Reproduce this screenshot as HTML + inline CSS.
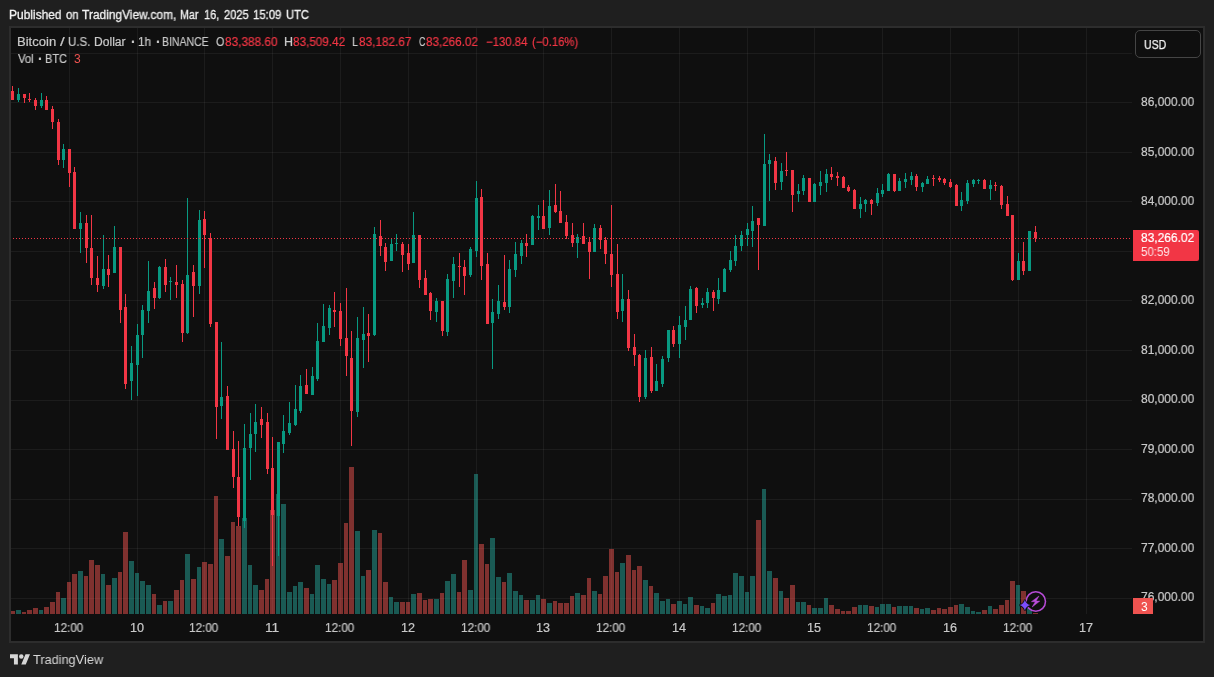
<!DOCTYPE html>
<html><head><meta charset="utf-8"><title>BTCUSD chart</title>
<style>
html,body{margin:0;padding:0;background:#1f1f1f;}
body{width:1214px;height:677px;position:relative;overflow:hidden;font-family:"Liberation Sans",sans-serif;font-size:12px;color:#c9c9c9;}
#frame{position:absolute;left:9px;top:26px;width:1192px;height:613px;border:2px solid #2d2d2d;background:#0f0f0f;}
.t{position:absolute;white-space:nowrap;line-height:14px;transform-origin:0 0;will-change:transform;z-index:1;}
#usd{position:absolute;left:1135px;top:30px;width:64px;height:26px;border:1px solid #454545;border-radius:5px;background:#0f0f0f;}
#plab{position:absolute;left:1133px;top:230px;width:66px;height:31px;background:#F23645;border-radius:0 2px 2px 0;z-index:2;}
#vlab{position:absolute;left:1133px;top:598px;width:20px;height:16px;background:#ef5350;z-index:2;}
#logo{position:absolute;left:10px;top:652px;}
</style></head><body>
<div id="frame"></div>
<svg width="1214" height="677" viewBox="0 0 1214 677" shape-rendering="crispEdges" style="position:absolute;left:0;top:0"><g fill="rgba(242,242,242,0.06)"><rect x="11" y="53" width="1121" height="1"/><rect x="11" y="102" width="1121" height="1"/><rect x="11" y="152" width="1121" height="1"/><rect x="11" y="201" width="1121" height="1"/><rect x="11" y="251" width="1121" height="1"/><rect x="11" y="300" width="1121" height="1"/><rect x="11" y="350" width="1121" height="1"/><rect x="11" y="400" width="1121" height="1"/><rect x="11" y="449" width="1121" height="1"/><rect x="11" y="499" width="1121" height="1"/><rect x="11" y="548" width="1121" height="1"/><rect x="11" y="598" width="1121" height="1"/><rect x="69" y="28" width="1" height="586"/><rect x="137" y="28" width="1" height="586"/><rect x="204" y="28" width="1" height="586"/><rect x="272" y="28" width="1" height="586"/><rect x="340" y="28" width="1" height="586"/><rect x="408" y="28" width="1" height="586"/><rect x="476" y="28" width="1" height="586"/><rect x="543" y="28" width="1" height="586"/><rect x="611" y="28" width="1" height="586"/><rect x="679" y="28" width="1" height="586"/><rect x="747" y="28" width="1" height="586"/><rect x="814" y="28" width="1" height="586"/><rect x="882" y="28" width="1" height="586"/><rect x="950" y="28" width="1" height="586"/><rect x="1018" y="28" width="1" height="586"/><rect x="1086" y="28" width="1" height="586"/></g><g fill="rgba(38,166,154,0.5)"><rect x="16" y="610" width="5" height="4"/><rect x="39" y="610" width="4" height="4"/><rect x="61" y="598" width="5" height="16"/><rect x="78" y="571" width="5" height="43"/><rect x="101" y="574" width="4" height="40"/><rect x="112" y="578" width="5" height="36"/><rect x="129" y="561" width="5" height="53"/><rect x="135" y="573" width="4" height="41"/><rect x="140" y="581" width="5" height="33"/><rect x="146" y="585" width="5" height="29"/><rect x="157" y="605" width="5" height="9"/><rect x="168" y="601" width="5" height="13"/><rect x="185" y="554" width="5" height="60"/><rect x="197" y="567" width="4" height="47"/><rect x="219" y="539" width="5" height="75"/><rect x="242" y="518" width="5" height="96"/><rect x="248" y="565" width="4" height="49"/><rect x="253" y="585" width="5" height="29"/><rect x="276" y="494" width="4" height="120"/><rect x="281" y="504" width="5" height="110"/><rect x="287" y="592" width="5" height="22"/><rect x="293" y="586" width="4" height="28"/><rect x="298" y="582" width="5" height="32"/><rect x="310" y="594" width="4" height="20"/><rect x="315" y="565" width="5" height="49"/><rect x="321" y="579" width="5" height="35"/><rect x="327" y="584" width="4" height="30"/><rect x="355" y="531" width="5" height="83"/><rect x="361" y="576" width="4" height="38"/><rect x="372" y="530" width="5" height="84"/><rect x="389" y="597" width="4" height="17"/><rect x="394" y="602" width="5" height="12"/><rect x="411" y="594" width="5" height="20"/><rect x="434" y="599" width="5" height="15"/><rect x="445" y="581" width="5" height="33"/><rect x="451" y="574" width="5" height="40"/><rect x="468" y="590" width="5" height="24"/><rect x="474" y="474" width="4" height="140"/><rect x="490" y="538" width="5" height="76"/><rect x="496" y="577" width="5" height="37"/><rect x="507" y="573" width="5" height="41"/><rect x="513" y="591" width="5" height="23"/><rect x="519" y="595" width="4" height="19"/><rect x="530" y="600" width="5" height="14"/><rect x="536" y="595" width="4" height="19"/><rect x="547" y="603" width="5" height="11"/><rect x="575" y="593" width="5" height="21"/><rect x="592" y="591" width="5" height="23"/><rect x="620" y="563" width="5" height="51"/><rect x="643" y="580" width="5" height="34"/><rect x="654" y="593" width="5" height="21"/><rect x="660" y="601" width="5" height="13"/><rect x="666" y="599" width="4" height="15"/><rect x="677" y="601" width="5" height="13"/><rect x="683" y="604" width="4" height="10"/><rect x="688" y="597" width="5" height="17"/><rect x="700" y="606" width="4" height="8"/><rect x="705" y="608" width="5" height="6"/><rect x="716" y="594" width="5" height="20"/><rect x="722" y="596" width="5" height="18"/><rect x="728" y="595" width="4" height="19"/><rect x="733" y="573" width="5" height="41"/><rect x="739" y="576" width="5" height="38"/><rect x="745" y="592" width="4" height="22"/><rect x="750" y="576" width="5" height="38"/><rect x="762" y="489" width="4" height="125"/><rect x="767" y="571" width="5" height="43"/><rect x="779" y="591" width="4" height="23"/><rect x="796" y="602" width="4" height="12"/><rect x="801" y="602" width="5" height="12"/><rect x="812" y="608" width="5" height="6"/><rect x="818" y="608" width="5" height="6"/><rect x="824" y="598" width="4" height="16"/><rect x="858" y="605" width="4" height="9"/><rect x="863" y="605" width="5" height="9"/><rect x="875" y="607" width="4" height="7"/><rect x="880" y="604" width="5" height="10"/><rect x="886" y="604" width="5" height="10"/><rect x="897" y="606" width="5" height="8"/><rect x="903" y="606" width="5" height="8"/><rect x="909" y="606" width="4" height="8"/><rect x="920" y="609" width="4" height="5"/><rect x="925" y="608" width="5" height="6"/><rect x="959" y="604" width="5" height="10"/><rect x="965" y="607" width="5" height="7"/><rect x="971" y="611" width="4" height="3"/><rect x="976" y="612" width="5" height="2"/><rect x="988" y="606" width="4" height="8"/><rect x="1016" y="585" width="4" height="29"/><rect x="1027" y="607" width="5" height="7"/></g><g fill="rgba(239,83,80,0.5)"><rect x="11" y="611" width="4" height="3"/><rect x="22" y="612" width="4" height="2"/><rect x="27" y="610" width="5" height="4"/><rect x="33" y="608" width="5" height="6"/><rect x="44" y="607" width="5" height="7"/><rect x="50" y="602" width="5" height="12"/><rect x="56" y="592" width="4" height="22"/><rect x="67" y="582" width="4" height="32"/><rect x="72" y="574" width="5" height="40"/><rect x="84" y="576" width="4" height="38"/><rect x="89" y="560" width="5" height="54"/><rect x="95" y="565" width="5" height="49"/><rect x="106" y="585" width="5" height="29"/><rect x="118" y="572" width="4" height="42"/><rect x="123" y="532" width="5" height="82"/><rect x="152" y="594" width="4" height="20"/><rect x="163" y="601" width="4" height="13"/><rect x="174" y="590" width="5" height="24"/><rect x="180" y="580" width="4" height="34"/><rect x="191" y="579" width="5" height="35"/><rect x="202" y="562" width="5" height="52"/><rect x="208" y="564" width="5" height="50"/><rect x="214" y="496" width="4" height="118"/><rect x="225" y="556" width="5" height="58"/><rect x="231" y="522" width="4" height="92"/><rect x="236" y="526" width="5" height="88"/><rect x="259" y="590" width="5" height="24"/><rect x="265" y="579" width="4" height="35"/><rect x="270" y="510" width="5" height="104"/><rect x="304" y="588" width="5" height="26"/><rect x="332" y="580" width="5" height="34"/><rect x="338" y="563" width="5" height="51"/><rect x="344" y="523" width="4" height="91"/><rect x="349" y="467" width="5" height="147"/><rect x="366" y="570" width="5" height="44"/><rect x="378" y="533" width="4" height="81"/><rect x="383" y="582" width="5" height="32"/><rect x="400" y="602" width="5" height="12"/><rect x="406" y="602" width="4" height="12"/><rect x="417" y="593" width="5" height="21"/><rect x="423" y="600" width="4" height="14"/><rect x="428" y="599" width="5" height="15"/><rect x="440" y="593" width="4" height="21"/><rect x="457" y="592" width="4" height="22"/><rect x="462" y="560" width="5" height="54"/><rect x="479" y="544" width="5" height="70"/><rect x="485" y="564" width="4" height="50"/><rect x="502" y="582" width="4" height="32"/><rect x="524" y="600" width="5" height="14"/><rect x="541" y="599" width="5" height="15"/><rect x="553" y="601" width="4" height="13"/><rect x="558" y="603" width="5" height="11"/><rect x="564" y="603" width="5" height="11"/><rect x="570" y="596" width="4" height="18"/><rect x="581" y="595" width="5" height="19"/><rect x="587" y="578" width="4" height="36"/><rect x="598" y="594" width="4" height="20"/><rect x="603" y="576" width="5" height="38"/><rect x="609" y="549" width="5" height="65"/><rect x="615" y="572" width="4" height="42"/><rect x="626" y="555" width="5" height="59"/><rect x="632" y="570" width="4" height="44"/><rect x="637" y="566" width="5" height="48"/><rect x="649" y="586" width="4" height="28"/><rect x="671" y="604" width="5" height="10"/><rect x="694" y="605" width="5" height="9"/><rect x="711" y="603" width="4" height="11"/><rect x="756" y="520" width="5" height="94"/><rect x="773" y="578" width="5" height="36"/><rect x="784" y="598" width="5" height="16"/><rect x="790" y="585" width="5" height="29"/><rect x="807" y="605" width="4" height="9"/><rect x="829" y="605" width="5" height="9"/><rect x="835" y="609" width="5" height="5"/><rect x="841" y="611" width="4" height="3"/><rect x="846" y="611" width="5" height="3"/><rect x="852" y="607" width="5" height="7"/><rect x="869" y="606" width="5" height="8"/><rect x="892" y="607" width="4" height="7"/><rect x="914" y="608" width="5" height="6"/><rect x="931" y="610" width="5" height="4"/><rect x="937" y="608" width="4" height="6"/><rect x="942" y="609" width="5" height="5"/><rect x="948" y="607" width="5" height="7"/><rect x="954" y="605" width="4" height="9"/><rect x="982" y="610" width="5" height="4"/><rect x="993" y="609" width="5" height="5"/><rect x="999" y="605" width="5" height="9"/><rect x="1005" y="600" width="4" height="14"/><rect x="1010" y="581" width="5" height="33"/><rect x="1021" y="591" width="5" height="23"/><rect x="1033" y="613" width="5" height="1"/></g><g fill="#089981"><rect x="18" y="88" width="1" height="14"/><rect x="17" y="94" width="3" height="6"/><rect x="41" y="93" width="1" height="15"/><rect x="40" y="100" width="3" height="6"/><rect x="63" y="144" width="1" height="24"/><rect x="62" y="149" width="3" height="11"/><rect x="80" y="212" width="1" height="41"/><rect x="79" y="223" width="3" height="6"/><rect x="103" y="235" width="1" height="54"/><rect x="102" y="269" width="3" height="17"/><rect x="114" y="226" width="1" height="47"/><rect x="113" y="247" width="3" height="26"/><rect x="131" y="346" width="1" height="54"/><rect x="130" y="363" width="3" height="18"/><rect x="137" y="324" width="1" height="72"/><rect x="136" y="335" width="3" height="30"/><rect x="142" y="305" width="1" height="53"/><rect x="141" y="310" width="3" height="25"/><rect x="148" y="261" width="1" height="62"/><rect x="147" y="291" width="3" height="20"/><rect x="159" y="266" width="1" height="33"/><rect x="158" y="267" width="3" height="31"/><rect x="170" y="277" width="1" height="23"/><rect x="169" y="281" width="3" height="1"/><rect x="187" y="198" width="1" height="136"/><rect x="186" y="275" width="3" height="58"/><rect x="199" y="210" width="1" height="84"/><rect x="198" y="220" width="3" height="66"/><rect x="221" y="342" width="1" height="77"/><rect x="220" y="397" width="3" height="9"/><rect x="244" y="424" width="1" height="104"/><rect x="243" y="448" width="3" height="73"/><rect x="250" y="413" width="1" height="67"/><rect x="249" y="434" width="3" height="14"/><rect x="255" y="404" width="1" height="48"/><rect x="254" y="422" width="3" height="12"/><rect x="278" y="442" width="1" height="114"/><rect x="277" y="442" width="3" height="74"/><rect x="283" y="415" width="1" height="38"/><rect x="282" y="431" width="3" height="13"/><rect x="289" y="402" width="1" height="33"/><rect x="288" y="423" width="3" height="10"/><rect x="295" y="385" width="1" height="41"/><rect x="294" y="409" width="3" height="16"/><rect x="300" y="375" width="1" height="38"/><rect x="299" y="386" width="3" height="25"/><rect x="312" y="367" width="1" height="28"/><rect x="311" y="376" width="3" height="19"/><rect x="317" y="323" width="1" height="58"/><rect x="316" y="341" width="3" height="38"/><rect x="323" y="304" width="1" height="38"/><rect x="322" y="326" width="3" height="16"/><rect x="329" y="305" width="1" height="30"/><rect x="328" y="308" width="3" height="20"/><rect x="357" y="317" width="1" height="100"/><rect x="356" y="338" width="3" height="74"/><rect x="363" y="307" width="1" height="61"/><rect x="362" y="334" width="3" height="6"/><rect x="374" y="227" width="1" height="109"/><rect x="373" y="234" width="3" height="101"/><rect x="391" y="238" width="1" height="23"/><rect x="390" y="244" width="3" height="17"/><rect x="396" y="234" width="1" height="17"/><rect x="395" y="243" width="3" height="1"/><rect x="413" y="212" width="1" height="51"/><rect x="412" y="235" width="3" height="28"/><rect x="436" y="298" width="1" height="24"/><rect x="435" y="301" width="3" height="11"/><rect x="447" y="274" width="1" height="62"/><rect x="446" y="279" width="3" height="53"/><rect x="453" y="257" width="1" height="41"/><rect x="452" y="264" width="3" height="17"/><rect x="470" y="247" width="1" height="30"/><rect x="469" y="249" width="3" height="26"/><rect x="476" y="181" width="1" height="76"/><rect x="475" y="198" width="3" height="53"/><rect x="492" y="299" width="1" height="70"/><rect x="491" y="312" width="3" height="11"/><rect x="498" y="285" width="1" height="34"/><rect x="497" y="301" width="3" height="13"/><rect x="509" y="260" width="1" height="53"/><rect x="508" y="269" width="3" height="38"/><rect x="515" y="242" width="1" height="35"/><rect x="514" y="254" width="3" height="16"/><rect x="521" y="240" width="1" height="24"/><rect x="520" y="243" width="3" height="13"/><rect x="532" y="215" width="1" height="30"/><rect x="531" y="216" width="3" height="29"/><rect x="538" y="205" width="1" height="25"/><rect x="537" y="216" width="3" height="2"/><rect x="549" y="190" width="1" height="45"/><rect x="548" y="206" width="3" height="22"/><rect x="577" y="234" width="1" height="24"/><rect x="576" y="237" width="3" height="6"/><rect x="594" y="224" width="1" height="28"/><rect x="593" y="228" width="3" height="24"/><rect x="622" y="274" width="1" height="48"/><rect x="621" y="299" width="3" height="12"/><rect x="645" y="350" width="1" height="49"/><rect x="644" y="358" width="3" height="39"/><rect x="656" y="364" width="1" height="27"/><rect x="655" y="381" width="3" height="10"/><rect x="662" y="356" width="1" height="31"/><rect x="661" y="359" width="3" height="25"/><rect x="668" y="330" width="1" height="32"/><rect x="667" y="330" width="3" height="28"/><rect x="679" y="316" width="1" height="42"/><rect x="678" y="325" width="3" height="19"/><rect x="685" y="306" width="1" height="34"/><rect x="684" y="320" width="3" height="7"/><rect x="690" y="286" width="1" height="34"/><rect x="689" y="289" width="3" height="31"/><rect x="702" y="298" width="1" height="10"/><rect x="701" y="303" width="3" height="2"/><rect x="707" y="288" width="1" height="20"/><rect x="706" y="292" width="3" height="11"/><rect x="718" y="278" width="1" height="26"/><rect x="717" y="290" width="3" height="9"/><rect x="724" y="268" width="1" height="24"/><rect x="723" y="269" width="3" height="23"/><rect x="730" y="251" width="1" height="21"/><rect x="729" y="260" width="3" height="10"/><rect x="735" y="235" width="1" height="31"/><rect x="734" y="246" width="3" height="15"/><rect x="741" y="231" width="1" height="20"/><rect x="740" y="235" width="3" height="11"/><rect x="747" y="223" width="1" height="23"/><rect x="746" y="229" width="3" height="6"/><rect x="752" y="206" width="1" height="41"/><rect x="751" y="221" width="3" height="10"/><rect x="764" y="134" width="1" height="92"/><rect x="763" y="164" width="3" height="62"/><rect x="769" y="154" width="1" height="47"/><rect x="768" y="160" width="3" height="4"/><rect x="781" y="163" width="1" height="27"/><rect x="780" y="171" width="3" height="11"/><rect x="798" y="184" width="1" height="18"/><rect x="797" y="191" width="3" height="3"/><rect x="803" y="175" width="1" height="20"/><rect x="802" y="178" width="3" height="13"/><rect x="814" y="183" width="1" height="19"/><rect x="813" y="184" width="3" height="18"/><rect x="820" y="171" width="1" height="24"/><rect x="819" y="182" width="3" height="4"/><rect x="826" y="169" width="1" height="23"/><rect x="825" y="174" width="3" height="9"/><rect x="860" y="197" width="1" height="21"/><rect x="859" y="204" width="3" height="5"/><rect x="865" y="199" width="1" height="13"/><rect x="864" y="200" width="3" height="4"/><rect x="877" y="188" width="1" height="18"/><rect x="876" y="193" width="3" height="10"/><rect x="882" y="184" width="1" height="13"/><rect x="881" y="190" width="3" height="4"/><rect x="888" y="173" width="1" height="18"/><rect x="887" y="174" width="3" height="17"/><rect x="899" y="178" width="1" height="13"/><rect x="898" y="181" width="3" height="10"/><rect x="905" y="173" width="1" height="15"/><rect x="904" y="179" width="3" height="3"/><rect x="911" y="172" width="1" height="13"/><rect x="910" y="176" width="3" height="4"/><rect x="922" y="182" width="1" height="10"/><rect x="921" y="183" width="3" height="4"/><rect x="927" y="176" width="1" height="8"/><rect x="926" y="179" width="3" height="5"/><rect x="961" y="192" width="1" height="19"/><rect x="960" y="200" width="3" height="6"/><rect x="967" y="180" width="1" height="24"/><rect x="966" y="183" width="3" height="18"/><rect x="973" y="179" width="1" height="8"/><rect x="972" y="180" width="3" height="4"/><rect x="978" y="179" width="1" height="5"/><rect x="977" y="180" width="3" height="1"/><rect x="990" y="180" width="1" height="20"/><rect x="989" y="185" width="3" height="4"/><rect x="1018" y="253" width="1" height="27"/><rect x="1017" y="261" width="3" height="19"/><rect x="1029" y="231" width="1" height="40"/><rect x="1028" y="231" width="3" height="40"/></g><g fill="#F23645"><rect x="12" y="86" width="1" height="14"/><rect x="11" y="91" width="3" height="9"/><rect x="24" y="94" width="1" height="9"/><rect x="23" y="94" width="3" height="4"/><rect x="29" y="93" width="1" height="9"/><rect x="28" y="99" width="3" height="1"/><rect x="35" y="98" width="1" height="12"/><rect x="34" y="100" width="3" height="6"/><rect x="46" y="96" width="1" height="14"/><rect x="45" y="100" width="3" height="10"/><rect x="52" y="106" width="1" height="23"/><rect x="51" y="109" width="3" height="13"/><rect x="58" y="119" width="1" height="46"/><rect x="57" y="122" width="3" height="38"/><rect x="69" y="149" width="1" height="38"/><rect x="68" y="149" width="3" height="24"/><rect x="74" y="167" width="1" height="62"/><rect x="73" y="172" width="3" height="57"/><rect x="86" y="215" width="1" height="48"/><rect x="85" y="223" width="3" height="25"/><rect x="91" y="215" width="1" height="70"/><rect x="90" y="248" width="3" height="30"/><rect x="97" y="256" width="1" height="36"/><rect x="96" y="278" width="3" height="7"/><rect x="108" y="255" width="1" height="32"/><rect x="107" y="269" width="3" height="6"/><rect x="120" y="247" width="1" height="76"/><rect x="119" y="247" width="3" height="63"/><rect x="125" y="294" width="1" height="95"/><rect x="124" y="307" width="3" height="77"/><rect x="154" y="282" width="1" height="27"/><rect x="153" y="288" width="3" height="10"/><rect x="165" y="259" width="1" height="33"/><rect x="164" y="267" width="3" height="18"/><rect x="176" y="265" width="1" height="33"/><rect x="175" y="282" width="3" height="3"/><rect x="182" y="280" width="1" height="62"/><rect x="181" y="284" width="3" height="49"/><rect x="193" y="265" width="1" height="52"/><rect x="192" y="272" width="3" height="14"/><rect x="204" y="211" width="1" height="57"/><rect x="203" y="219" width="3" height="16"/><rect x="210" y="233" width="1" height="94"/><rect x="209" y="238" width="3" height="86"/><rect x="216" y="322" width="1" height="117"/><rect x="215" y="322" width="3" height="85"/><rect x="227" y="386" width="1" height="64"/><rect x="226" y="396" width="3" height="54"/><rect x="233" y="431" width="1" height="57"/><rect x="232" y="449" width="3" height="28"/><rect x="238" y="441" width="1" height="85"/><rect x="237" y="477" width="3" height="40"/><rect x="261" y="407" width="1" height="31"/><rect x="260" y="419" width="3" height="6"/><rect x="267" y="413" width="1" height="61"/><rect x="266" y="422" width="3" height="47"/><rect x="272" y="437" width="1" height="129"/><rect x="271" y="468" width="3" height="47"/><rect x="306" y="369" width="1" height="25"/><rect x="305" y="385" width="3" height="9"/><rect x="334" y="292" width="1" height="35"/><rect x="333" y="310" width="3" height="2"/><rect x="340" y="303" width="1" height="43"/><rect x="339" y="311" width="3" height="28"/><rect x="346" y="288" width="1" height="88"/><rect x="345" y="338" width="3" height="18"/><rect x="351" y="331" width="1" height="115"/><rect x="350" y="358" width="3" height="53"/><rect x="368" y="314" width="1" height="48"/><rect x="367" y="333" width="3" height="3"/><rect x="380" y="220" width="1" height="36"/><rect x="379" y="236" width="3" height="10"/><rect x="385" y="243" width="1" height="28"/><rect x="384" y="247" width="3" height="15"/><rect x="402" y="242" width="1" height="30"/><rect x="401" y="244" width="3" height="11"/><rect x="408" y="244" width="1" height="26"/><rect x="407" y="253" width="3" height="11"/><rect x="419" y="235" width="1" height="53"/><rect x="418" y="235" width="3" height="45"/><rect x="425" y="270" width="1" height="25"/><rect x="424" y="278" width="3" height="17"/><rect x="430" y="292" width="1" height="28"/><rect x="429" y="293" width="3" height="18"/><rect x="442" y="301" width="1" height="35"/><rect x="441" y="301" width="3" height="30"/><rect x="459" y="253" width="1" height="34"/><rect x="458" y="266" width="3" height="1"/><rect x="464" y="260" width="1" height="35"/><rect x="463" y="267" width="3" height="9"/><rect x="481" y="189" width="1" height="91"/><rect x="480" y="197" width="3" height="69"/><rect x="487" y="253" width="1" height="71"/><rect x="486" y="264" width="3" height="60"/><rect x="504" y="255" width="1" height="55"/><rect x="503" y="302" width="3" height="5"/><rect x="526" y="234" width="1" height="23"/><rect x="525" y="243" width="3" height="3"/><rect x="543" y="200" width="1" height="29"/><rect x="542" y="216" width="3" height="13"/><rect x="555" y="184" width="1" height="29"/><rect x="554" y="205" width="3" height="7"/><rect x="560" y="191" width="1" height="32"/><rect x="559" y="211" width="3" height="12"/><rect x="566" y="215" width="1" height="24"/><rect x="565" y="222" width="3" height="14"/><rect x="572" y="223" width="1" height="24"/><rect x="571" y="235" width="3" height="8"/><rect x="583" y="223" width="1" height="21"/><rect x="582" y="236" width="3" height="8"/><rect x="589" y="237" width="1" height="42"/><rect x="588" y="242" width="3" height="10"/><rect x="600" y="225" width="1" height="24"/><rect x="599" y="228" width="3" height="12"/><rect x="605" y="237" width="1" height="27"/><rect x="604" y="240" width="3" height="14"/><rect x="611" y="205" width="1" height="82"/><rect x="610" y="254" width="3" height="21"/><rect x="617" y="244" width="1" height="75"/><rect x="616" y="274" width="3" height="38"/><rect x="628" y="290" width="1" height="61"/><rect x="627" y="299" width="3" height="49"/><rect x="634" y="334" width="1" height="32"/><rect x="633" y="347" width="3" height="8"/><rect x="639" y="354" width="1" height="48"/><rect x="638" y="355" width="3" height="42"/><rect x="651" y="347" width="1" height="46"/><rect x="650" y="357" width="3" height="34"/><rect x="673" y="326" width="1" height="21"/><rect x="672" y="330" width="3" height="14"/><rect x="696" y="287" width="1" height="26"/><rect x="695" y="288" width="3" height="18"/><rect x="713" y="290" width="1" height="21"/><rect x="712" y="292" width="3" height="6"/><rect x="758" y="218" width="1" height="52"/><rect x="757" y="218" width="3" height="7"/><rect x="775" y="157" width="1" height="33"/><rect x="774" y="161" width="3" height="22"/><rect x="786" y="152" width="1" height="24"/><rect x="785" y="170" width="3" height="1"/><rect x="792" y="170" width="1" height="42"/><rect x="791" y="170" width="3" height="25"/><rect x="809" y="178" width="1" height="24"/><rect x="808" y="178" width="3" height="24"/><rect x="831" y="167" width="1" height="13"/><rect x="830" y="174" width="3" height="3"/><rect x="837" y="172" width="1" height="14"/><rect x="836" y="176" width="3" height="2"/><rect x="843" y="176" width="1" height="12"/><rect x="842" y="177" width="3" height="11"/><rect x="848" y="185" width="1" height="7"/><rect x="847" y="187" width="3" height="4"/><rect x="854" y="189" width="1" height="20"/><rect x="853" y="190" width="3" height="19"/><rect x="871" y="199" width="1" height="16"/><rect x="870" y="200" width="3" height="4"/><rect x="894" y="174" width="1" height="18"/><rect x="893" y="174" width="3" height="17"/><rect x="916" y="174" width="1" height="17"/><rect x="915" y="176" width="3" height="11"/><rect x="933" y="175" width="1" height="11"/><rect x="932" y="178" width="3" height="1"/><rect x="939" y="176" width="1" height="6"/><rect x="938" y="178" width="3" height="2"/><rect x="944" y="178" width="1" height="7"/><rect x="943" y="179" width="3" height="4"/><rect x="950" y="179" width="1" height="9"/><rect x="949" y="182" width="3" height="5"/><rect x="956" y="184" width="1" height="22"/><rect x="955" y="185" width="3" height="21"/><rect x="984" y="179" width="1" height="10"/><rect x="983" y="180" width="3" height="9"/><rect x="995" y="182" width="1" height="9"/><rect x="994" y="185" width="3" height="1"/><rect x="1001" y="185" width="1" height="24"/><rect x="1000" y="186" width="3" height="19"/><rect x="1007" y="196" width="1" height="20"/><rect x="1006" y="204" width="3" height="12"/><rect x="1012" y="215" width="1" height="66"/><rect x="1011" y="215" width="3" height="65"/><rect x="1023" y="242" width="1" height="33"/><rect x="1022" y="261" width="3" height="10"/><rect x="1035" y="226" width="1" height="16"/><rect x="1034" y="232" width="3" height="6"/></g><line x1="13" x2="1132" y1="238.5" y2="238.5" stroke="#F23645" stroke-width="1" stroke-dasharray="1 2"/></svg>
<div id="usd"></div>
<div id="plab"></div>
<div id="vlab"></div>
<div class="t" style="left:9.10px;top:7.90px;font-size:12px;transform:scaleX(0.9961);color:#f2f2f2;-webkit-text-stroke:0.3px #f2f2f2;">Published</div><div class="t" style="left:65.50px;top:7.90px;font-size:12px;transform:scaleX(0.9385);color:#f2f2f2;-webkit-text-stroke:0.3px #f2f2f2;">on</div><div class="t" style="left:82.40px;top:7.90px;font-size:12px;transform:scaleX(0.9947);color:#f2f2f2;-webkit-text-stroke:0.3px #f2f2f2;">TradingView.com,</div><div class="t" style="left:179.61px;top:7.90px;font-size:12px;transform:scaleX(0.8900);color:#f2f2f2;-webkit-text-stroke:0.3px #f2f2f2;">Mar</div><div class="t" style="left:203.99px;top:7.90px;font-size:12px;transform:scaleX(0.9133);color:#f2f2f2;-webkit-text-stroke:0.3px #f2f2f2;">16,</div><div class="t" style="left:223.90px;top:7.90px;font-size:12px;transform:scaleX(0.9269);color:#f2f2f2;-webkit-text-stroke:0.3px #f2f2f2;">2025</div><div class="t" style="left:253.36px;top:7.90px;font-size:12px;transform:scaleX(0.9448);color:#f2f2f2;-webkit-text-stroke:0.3px #f2f2f2;">15:09</div><div class="t" style="left:285.67px;top:7.90px;font-size:12px;transform:scaleX(0.9304);color:#f2f2f2;-webkit-text-stroke:0.3px #f2f2f2;">UTC</div><div class="t" style="left:17.21px;top:34.70px;font-size:12px;transform:scaleX(1.0882);-webkit-text-stroke:0.2px #c9c9c9;">Bitcoin</div><div class="t" style="left:59.80px;top:34.70px;font-size:12px;transform:scaleX(1.4000);-webkit-text-stroke:0.2px #c9c9c9;">/</div><div class="t" style="left:67.84px;top:34.70px;font-size:12px;transform:scaleX(0.9591);-webkit-text-stroke:0.2px #c9c9c9;">U.S.</div><div class="t" style="left:93.79px;top:34.70px;font-size:12px;transform:scaleX(1.0067);-webkit-text-stroke:0.2px #c9c9c9;">Dollar</div><div class="t" style="left:131px;top:35px;font-size:14px;font-weight:bold;-webkit-text-stroke:0.2px #c9c9c9;">·</div><div class="t" style="left:137.93px;top:34.70px;font-size:12px;transform:scaleX(0.9667);-webkit-text-stroke:0.2px #c9c9c9;">1h</div><div class="t" style="left:156px;top:35px;font-size:14px;font-weight:bold;-webkit-text-stroke:0.2px #c9c9c9;">·</div><div class="t" style="left:162.22px;top:34.70px;font-size:12px;transform:scaleX(0.8750);-webkit-text-stroke:0.2px #c9c9c9;">BINANCE</div><div class="t" style="left:216.10px;top:34.70px;font-size:12px;transform:scaleX(0.9000);-webkit-text-stroke:0.2px #c9c9c9;">O</div><div class="t" style="left:283.66px;top:34.70px;font-size:12px;transform:scaleX(1.0429);-webkit-text-stroke:0.2px #c9c9c9;">H</div><div class="t" style="left:351.92px;top:34.70px;font-size:12px;transform:scaleX(0.8833);-webkit-text-stroke:0.2px #c9c9c9;">L</div><div class="t" style="left:418.90px;top:34.70px;font-size:12px;transform:scaleX(0.7375);-webkit-text-stroke:0.2px #c9c9c9;">C</div><div class="t" style="left:224.70px;top:34.70px;font-size:12px;transform:scaleX(0.9849);color:#F23645;-webkit-text-stroke:0.2px #F23645;">83,388.60</div><div class="t" style="left:292.80px;top:34.70px;font-size:12px;transform:scaleX(0.9774);color:#F23645;-webkit-text-stroke:0.2px #F23645;">83,509.42</div><div class="t" style="left:358.90px;top:34.70px;font-size:12px;transform:scaleX(0.9830);color:#F23645;-webkit-text-stroke:0.2px #F23645;">83,182.67</div><div class="t" style="left:426.10px;top:34.70px;font-size:12px;transform:scaleX(0.9717);color:#F23645;-webkit-text-stroke:0.2px #F23645;">83,266.02</div><div class="t" style="left:485.65px;top:34.70px;font-size:12px;transform:scaleX(0.9488);color:#F23645;-webkit-text-stroke:0.2px #F23645;">−130.84</div><div class="t" style="left:531.56px;top:34.70px;font-size:12px;transform:scaleX(0.9426);color:#F23645;-webkit-text-stroke:0.2px #F23645;">(−0.16%)</div><div class="t" style="left:18.30px;top:52.00px;font-size:12px;transform:scaleX(0.9437);-webkit-text-stroke:0.2px #c9c9c9;">Vol</div><div class="t" style="left:38px;top:52px;font-size:14px;font-weight:bold;-webkit-text-stroke:0.2px #c9c9c9;">·</div><div class="t" style="left:45.08px;top:52.00px;font-size:12px;transform:scaleX(0.9182);-webkit-text-stroke:0.2px #c9c9c9;">BTC</div><div class="t" style="left:74.00px;top:52.00px;font-size:12px;transform:scaleX(1.0000);color:#ef5350;">3</div><div class="t" style="left:1140.80px;top:95.00px;font-size:12px;transform:scaleX(0.9962);-webkit-text-stroke:0.2px #c9c9c9;">86,000.00</div><div class="t" style="left:1140.80px;top:144.50px;font-size:12px;transform:scaleX(0.9962);-webkit-text-stroke:0.2px #c9c9c9;">85,000.00</div><div class="t" style="left:1140.80px;top:194.00px;font-size:12px;transform:scaleX(0.9962);-webkit-text-stroke:0.2px #c9c9c9;">84,000.00</div><div class="t" style="left:1140.80px;top:243.50px;font-size:12px;transform:scaleX(0.9962);-webkit-text-stroke:0.2px #c9c9c9;">83,000.00</div><div class="t" style="left:1140.80px;top:293.00px;font-size:12px;transform:scaleX(0.9962);-webkit-text-stroke:0.2px #c9c9c9;">82,000.00</div><div class="t" style="left:1140.80px;top:342.50px;font-size:12px;transform:scaleX(0.9962);-webkit-text-stroke:0.2px #c9c9c9;">81,000.00</div><div class="t" style="left:1140.80px;top:392.00px;font-size:12px;transform:scaleX(0.9962);-webkit-text-stroke:0.2px #c9c9c9;">80,000.00</div><div class="t" style="left:1140.80px;top:441.50px;font-size:12px;transform:scaleX(0.9962);-webkit-text-stroke:0.2px #c9c9c9;">79,000.00</div><div class="t" style="left:1140.80px;top:491.00px;font-size:12px;transform:scaleX(0.9962);-webkit-text-stroke:0.2px #c9c9c9;">78,000.00</div><div class="t" style="left:1140.80px;top:540.50px;font-size:12px;transform:scaleX(0.9962);-webkit-text-stroke:0.2px #c9c9c9;">77,000.00</div><div class="t" style="left:1140.80px;top:590.00px;font-size:12px;transform:scaleX(0.9962);-webkit-text-stroke:0.2px #c9c9c9;">76,000.00</div><div class="t" style="left:54.37px;top:620.80px;font-size:12px;transform:scaleX(0.9759);-webkit-text-stroke:0.2px #c9c9c9;">12:00</div><div class="t" style="left:130.15px;top:620.80px;font-size:12px;transform:scaleX(1.0500);-webkit-text-stroke:0.2px #c9c9c9;">10</div><div class="t" style="left:189.37px;top:620.80px;font-size:12px;transform:scaleX(0.9759);-webkit-text-stroke:0.2px #c9c9c9;">12:00</div><div class="t" style="left:265.05px;top:620.80px;font-size:12px;transform:scaleX(1.1455);-webkit-text-stroke:0.2px #c9c9c9;">11</div><div class="t" style="left:325.37px;top:620.80px;font-size:12px;transform:scaleX(0.9759);-webkit-text-stroke:0.2px #c9c9c9;">12:00</div><div class="t" style="left:401.15px;top:620.80px;font-size:12px;transform:scaleX(1.0500);-webkit-text-stroke:0.2px #c9c9c9;">12</div><div class="t" style="left:461.37px;top:620.80px;font-size:12px;transform:scaleX(0.9759);-webkit-text-stroke:0.2px #c9c9c9;">12:00</div><div class="t" style="left:536.15px;top:620.80px;font-size:12px;transform:scaleX(1.0500);-webkit-text-stroke:0.2px #c9c9c9;">13</div><div class="t" style="left:596.37px;top:620.80px;font-size:12px;transform:scaleX(0.9759);-webkit-text-stroke:0.2px #c9c9c9;">12:00</div><div class="t" style="left:672.15px;top:620.80px;font-size:12px;transform:scaleX(1.0500);-webkit-text-stroke:0.2px #c9c9c9;">14</div><div class="t" style="left:732.37px;top:620.80px;font-size:12px;transform:scaleX(0.9759);-webkit-text-stroke:0.2px #c9c9c9;">12:00</div><div class="t" style="left:807.15px;top:620.80px;font-size:12px;transform:scaleX(1.0500);-webkit-text-stroke:0.2px #c9c9c9;">15</div><div class="t" style="left:867.37px;top:620.80px;font-size:12px;transform:scaleX(0.9759);-webkit-text-stroke:0.2px #c9c9c9;">12:00</div><div class="t" style="left:943.15px;top:620.80px;font-size:12px;transform:scaleX(1.0500);-webkit-text-stroke:0.2px #c9c9c9;">16</div><div class="t" style="left:1003.37px;top:620.80px;font-size:12px;transform:scaleX(0.9759);-webkit-text-stroke:0.2px #c9c9c9;">12:00</div><div class="t" style="left:1079.15px;top:620.80px;font-size:12px;transform:scaleX(1.0500);-webkit-text-stroke:0.2px #c9c9c9;">17</div><div class="t" style="left:1144.03px;top:37.80px;font-size:12px;transform:scaleX(0.8750);color:#f2f2f2;-webkit-text-stroke:0.25px #f2f2f2;">USD</div><div class="t" style="left:1140.80px;top:230.70px;font-size:12px;transform:scaleX(0.9962);color:#fff;-webkit-text-stroke:0.2px #fff;z-index:3;">83,266.02</div><div class="t" style="left:1141.30px;top:244.70px;font-size:12px;transform:scaleX(0.9567);color:rgba(255,255,255,0.88);z-index:3;">50:59</div><div class="t" style="left:1141.30px;top:599.50px;font-size:12px;transform:scaleX(0.9500);color:#fff;z-index:3;">3</div><div class="t" style="left:33.10px;top:653.00px;font-size:13px;transform:scaleX(0.9792);color:#d8d8d8;">TradingView</div>
<svg width="1214" height="677" viewBox="0 0 1214 677" style="position:absolute;left:0;top:0"><g>
<circle cx="1035.8" cy="601.5" r="9.7" fill="#0f0f0f" stroke="#b64bd6" stroke-width="1.55"/>
<path d="M1039.0 596.0 L1031.4 601.7 L1035.3 601.7 L1032.2 607.0 L1039.8 601.1 L1036.1 601.1 Z" fill="#bd4edd" stroke="#bd4edd" stroke-width="0.5" stroke-linejoin="round"/>
<path d="M1024.90 599.70 C1025.60 602.50 1027.50 604.40 1030.30 605.10 C1027.50 605.80 1025.60 607.70 1024.90 610.50 C1024.20 607.70 1022.30 605.80 1019.50 605.10 C1022.30 604.40 1024.20 602.50 1024.90 599.70 Z" fill="#7c4dff" stroke="#0f0f0f" stroke-width="1.6" paint-order="stroke"/>
</g></svg>
<svg id="logo" viewBox="0 0 36 28" width="20.3" height="15.8"><path d="M14 22H7V11H0V4h14v18zM28 22h-8l7.5-18h8L28 22z" fill="#d6d6d6"/><circle cx="20" cy="8" r="4" fill="#d6d6d6"/></svg>
</body></html>
